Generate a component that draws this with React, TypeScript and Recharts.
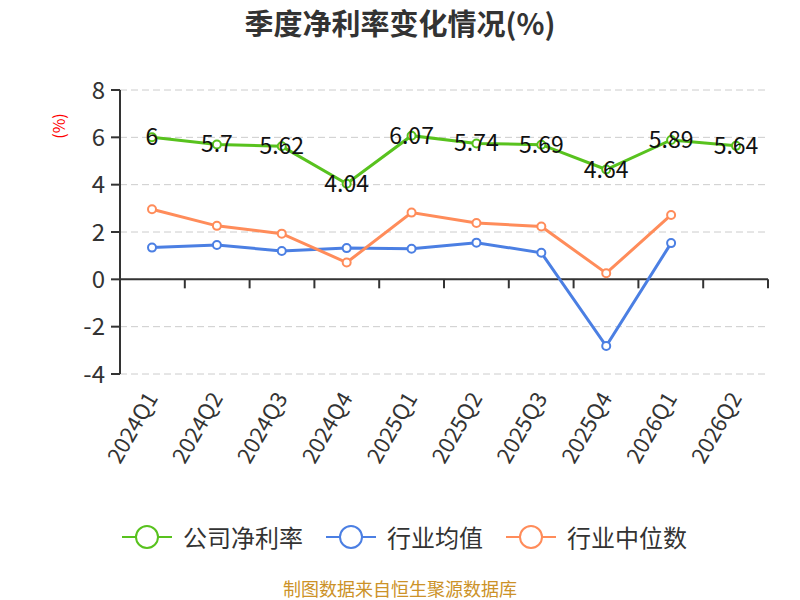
import {
  CartesianGrid,
  LabelList,
  Line,
  LineChart,
  ReferenceLine,
  XAxis,
  YAxis,
} from "recharts";

const QUARTERS = [
  "2024Q1",
  "2024Q2",
  "2024Q3",
  "2024Q4",
  "2025Q1",
  "2025Q2",
  "2025Q3",
  "2025Q4",
  "2026Q1",
  "2026Q2",
];

const COMPANY_MARGIN = [6, 5.7, 5.62, 4.04, 6.07, 5.74, 5.69, 4.64, 5.89, 5.64];
const INDUSTRY_AVG = [1.34, 1.45, 1.2, 1.32, 1.29, 1.55, 1.12, -2.82, 1.53, null];
const INDUSTRY_MEDIAN = [2.96, 2.26, 1.93, 0.71, 2.82, 2.38, 2.23, 0.26, 2.72, null];

const Y_TICKS = [-4, -2, 0, 2, 4, 6, 8];

const SERIES = [
  { key: "company", name: "公司净利率", color: "#58c21e" },
  { key: "avg", name: "行业均值", color: "#4b7fe3" },
  { key: "median", name: "行业中位数", color: "#ff8c5a" },
];

const FONT = "'Noto Sans CJK SC', 'Noto Sans', sans-serif";

const data = QUARTERS.map((q, i) => ({
  quarter: q,
  company: COMPANY_MARGIN[i],
  avg: INDUSTRY_AVG[i],
  median: INDUSTRY_MEDIAN[i],
}));

function XTick({ x, y, payload }: any) {
  return (
    <text
      x={x - 2}
      y={y}
      transform={`rotate(-60, ${x - 2}, ${y})`}
      textAnchor="end"
      dominantBaseline="central"
      fontSize={22}
      fill="#333"
    >
      {payload.value}
    </text>
  );
}

// zero line acts as the x axis, with ticks on the category boundaries
function ZeroAxis({ x1, y1, x2 }: any) {
  const step = (x2 - x1) / QUARTERS.length;
  return (
    <g>
      <line x1={x1} y1={y1} x2={x2} y2={y1} stroke="#333" strokeWidth={2} />
      {QUARTERS.map((_, i) => (
        <line
          key={i}
          x1={x1 + step * (i + 1)}
          y1={y1}
          x2={x1 + step * (i + 1)}
          y2={y1 + 9}
          stroke="#333"
          strokeWidth={2}
        />
      ))}
    </g>
  );
}

function ValueLabel({ x, y, value }: any) {
  return (
    <text
      x={x}
      y={y - 2}
      textAnchor="middle"
      dominantBaseline="central"
      fontSize={23}
      fill="#111"
    >
      {value}
    </text>
  );
}

function UnitLabel({ viewBox }: any) {
  const cx = viewBox.x + 8;
  const cy = 126;
  return (
    <text
      x={cx}
      y={cy}
      transform={`rotate(-90, ${cx}, ${cy})`}
      textAnchor="middle"
      dominantBaseline="central"
      fontSize={16}
      fill="#ff0000"
    >
      (%)
    </text>
  );
}

export default function App() {
  return (
    <div
      style={{
        position: "absolute",
        left: 0,
        top: 0,
        width: 800,
        height: 600,
        background: "#fff",
        fontFamily: FONT,
        overflow: "hidden",
      }}
    >
      <div
        style={{
          position: "absolute",
          top: 22,
          left: 0,
          width: 800,
          transform: "translateY(-50%)",
          textAlign: "center",
          fontSize: 29,
          lineHeight: 1,
          fontWeight: "bold",
          color: "#333",
        }}
      >
        季度净利率变化情况(%)
      </div>

      <LineChart
        width={800}
        height={600}
        data={data}
        margin={{ top: 90, right: 32, left: 50, bottom: 196 }}
      >
        <CartesianGrid vertical={false} stroke="#ccc" strokeDasharray="7 4" />
        <XAxis
          dataKey="quarter"
          interval={0}
          height={30}
          padding={{ left: 32, right: 32 }}
          axisLine={false}
          tickLine={false}
          tickSize={0}
          tickMargin={19}
          tick={<XTick />}
        />
        <YAxis
          width={70}
          domain={[-4, 8]}
          ticks={Y_TICKS}
          interval={0}
          axisLine={{ stroke: "#333", strokeWidth: 2 }}
          tickLine={{ stroke: "#333", strokeWidth: 2 }}
          tickSize={9}
          tickMargin={6}
          tick={{ fontSize: 24, fill: "#333" }}
          label={<UnitLabel />}
        />
        <ReferenceLine y={0} shape={<ZeroAxis />} />
        {SERIES.map((s) => (
          <Line
            key={s.key}
            dataKey={s.key}
            name={s.name}
            stroke={s.color}
            strokeWidth={3}
            dot={{ r: 4, fill: "#fff", stroke: s.color, strokeWidth: 2 }}
            isAnimationActive={false}
          >
            {s.key === "company" && (
              <LabelList dataKey="company" content={<ValueLabel />} />
            )}
          </Line>
        ))}
      </LineChart>

      <div
        style={{
          position: "absolute",
          top: 537,
          left: 122,
          transform: "translateY(-50%)",
          display: "flex",
          alignItems: "center",
          fontSize: 24,
          lineHeight: 1,
          color: "#333",
        }}
      >
        {SERIES.map((s) => (
          <div key={s.key} style={{ display: "flex", alignItems: "center", marginRight: 23 }}>
            <svg width={50} height={28}>
              <line x1={0} y1={14} x2={50} y2={14} stroke={s.color} strokeWidth={2} />
              <circle cx={25} cy={14} r={11} fill="#fff" stroke={s.color} strokeWidth={2} />
            </svg>
            <span style={{ marginLeft: 11 }}>{s.name}</span>
          </div>
        ))}
      </div>

      <div
        style={{
          position: "absolute",
          top: 578,
          left: 0,
          width: 800,
          textAlign: "center",
          fontSize: 18,
          lineHeight: "20px",
          color: "#cc9228",
        }}
      >
        制图数据来自恒生聚源数据库
      </div>
    </div>
  );
}
